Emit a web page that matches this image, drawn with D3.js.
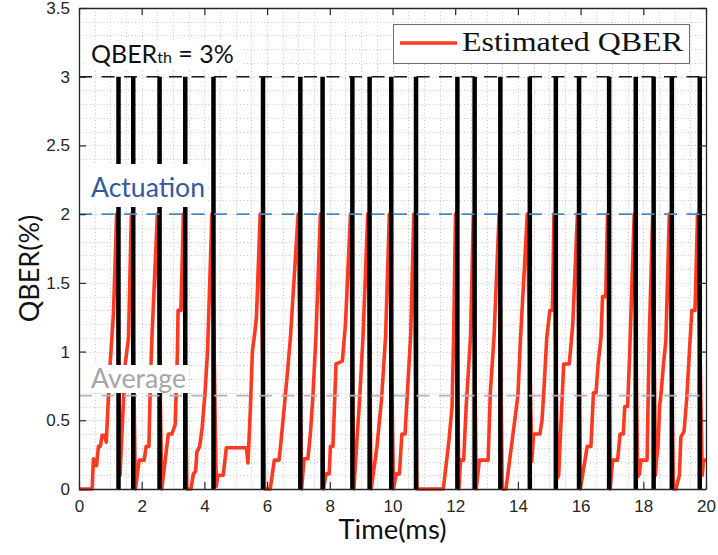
<!DOCTYPE html>
<html>
<head>
<meta charset="utf-8">
<script src="https://cdnjs.cloudflare.com/ajax/libs/d3/7.8.5/d3.min.js"></script>
<style>
	body { margin: 0; background: #fff; }
	svg { display: block; }
</style>
</head>
<body>
<svg id="chart" width="718" height="555"></svg>
<script>
// tick labels
var xTicks = [0, 2, 4, 6, 8, 10, 12, 14, 16, 18, 20];
var yTicks = [0, 0.5, 1, 1.5, 2, 2.5, 3, 3.5];

// reference levels (QBER %)
var thresholdLevel = 3;
var actuationLevel = 2;
var averageLevel = 0.68;

// times (ms) of the actuation bars
var actuationTimes = [1.26, 1.73, 2.57, 3.39, 4.29, 5.87, 7.06, 7.77, 8.72, 9.27, 9.96, 10.75,
	12.07, 12.62, 13.44, 14.38, 15.21, 15.95, 16.91, 17.76, 18.33, 18.91, 19.8];

// estimated QBER, [time ms, QBER %]
var qberTime = [
	0, 0.42, 0.46, 0.52, 0.56, 0.62, 0.68, 0.74, 0.82, 0.87, 0.94, 0.99, 1.1, 1.2,
	1.31, 1.47, 1.58, 1.67,
	1.8, 1.92, 2.08, 2.14, 2.23, 2.28, 2.33, 2.5,
	2.64, 2.75, 2.85, 2.96, 3.07, 3.14, 3.16, 3.25, 3.33,
	3.44, 3.57, 3.65, 3.72, 3.76, 3.85, 3.93, 4.02, 4.1, 4.24,
	4.38, 4.43, 4.6, 4.7, 5.34, 5.39, 5.47, 5.53, 5.6, 5.66, 5.78,
	5.92, 6.1, 6.23, 6.38, 6.45, 6.55, 6.65, 6.75, 6.99,
	7.1, 7.18, 7.3, 7.38, 7.46, 7.56, 7.7,
	7.8, 7.88, 7.98, 8.02, 8.1, 8.2, 8.4, 8.5, 8.66,
	8.77, 8.85, 8.95, 9.06, 9.21,
	9.32, 9.5, 9.65, 9.78, 9.9,
	10.03, 10.12, 10.22, 10.3, 10.4, 10.5, 10.58, 10.68,
	10.78, 11.62, 11.8, 11.9, 11.95, 12.01,
	12.12, 12.17, 12.27, 12.35, 12.49, 12.58,
	12.67, 12.77, 13.05, 13.12, 13.24, 13.4,
	13.5, 13.62, 14.0, 14.08, 14.3,
	14.44, 14.5, 14.7, 14.77, 14.83, 14.92, 15.02, 15.1, 15.15,
	15.26, 15.3, 15.46, 15.64, 15.75, 15.9,
	15.99, 16.07, 16.21, 16.33, 16.41, 16.49, 16.56, 16.65, 16.7, 16.8, 16.86,
	16.94, 17.02, 17.18, 17.26, 17.36, 17.41, 17.5, 17.56, 17.71,
	17.82, 17.88, 17.92, 18.12, 18.19, 18.3,
	18.39, 18.42, 18.47, 18.52, 18.57, 18.64, 18.72, 18.83,
	18.96, 19.04, 19.15, 19.2, 19.3, 19.39, 19.47, 19.55, 19.65, 19.73,
	19.88, 19.92, 20.0
];
var qberValue = [
	0, 0, 0.22, 0.2, 0.17, 0.31, 0.31, 0.39, 0.39, 0.34, 0.68, 0.9, 1.28, 2.0,
	0.1, 0.9, 1.1, 2.0,
	0, 0.21, 0.21, 0.31, 0.31, 0.8, 1.12, 2.0,
	0, 0.21, 0.4, 0.4, 0.47, 1.0, 1.3, 1.3, 2.0,
	0, 0, 0.11, 0.13, 0.27, 0.31, 0.45, 0.7, 1.0, 2.0,
	0.02, 0.1, 0.1, 0.3, 0.3, 0.19, 0.6, 1.0, 1.12, 1.25, 2.0,
	0, 0, 0.21, 0.21, 0.36, 0.6, 0.85, 1.12, 2.0,
	0, 0.22, 0.22, 0.4, 0.67, 1.12, 2.0,
	0, 0.11, 0.11, 0.31, 0.31, 0.91, 0.93, 1.2, 2.0,
	0, 0.3, 0.65, 1.11, 2.0,
	0, 0.3, 0.65, 1.11, 2.0,
	0, 0.11, 0.11, 0.4, 0.4, 0.8, 1.12, 2.0,
	0, 0, 0.35, 0.6, 1.11, 2.0,
	0, 0.21, 0.21, 0.6, 1.11, 2.0,
	0, 0.21, 0.21, 0.7, 1.11, 2.0,
	0, 0, 0.68, 1.08, 2.0,
	0.2, 0.4, 0.4, 0.5, 0.72, 1.1, 1.3, 1.3, 2.0,
	0.08, 0.1, 0.91, 0.91, 1.2, 2.0,
	0, 0.11, 0.31, 0.31, 0.7, 0.7, 0.91, 1.1, 1.4, 1.4, 2.0,
	0, 0.21, 0.21, 0.4, 0.4, 0.6, 0.6, 0.95, 2.0,
	0.09, 0.11, 0.21, 0.21, 1.1, 2.0,
	0.1, 0.21, 0.31, 0.6, 0.7, 0.9, 1.08, 2.0,
	0, 0, 0.1, 0.38, 0.42, 0.67, 1.0, 1.3, 1.3, 2.0,
	0.1, 0.21, 0.21
];

var sansFont = 'Lato, "Liberation Sans", sans-serif';
var tickFont = '"Liberation Sans", Arial, sans-serif';

var svg = d3.select('#chart');
var plotLeft = 79, plotRight = 706, plotTop = 8, plotBottom = 489;

var x = d3.scaleLinear().domain([0, 20]).range([plotLeft, plotRight]);
var y = d3.scaleLinear().domain([0, 3.5]).range([plotBottom, plotTop]);

//Minor dotted grid
var grid = svg.append('g').attr('stroke', '#c4c4c4').attr('stroke-width', 1).attr('stroke-dasharray', '1,2.5');
grid.selectAll('line.gx')
	.data(d3.range(1, 40))
	.enter().append('line')
	.attr('x1', function(d){ return Math.round(x(d * 0.5)) + 0.5; })
	.attr('x2', function(d){ return Math.round(x(d * 0.5)) + 0.5; })
	.attr('y1', plotTop)
	.attr('y2', plotBottom);
grid.selectAll('line.gy')
	.data(d3.range(1, 35))
	.enter().append('line')
	.attr('y1', function(d){ return Math.round(y(d * 0.1)) + 0.5; })
	.attr('y2', function(d){ return Math.round(y(d * 0.1)) + 0.5; })
	.attr('x1', plotLeft)
	.attr('x2', plotRight);

//Estimated QBER line
var qberData = qberTime.map(function(t, i){ return [t, qberValue[i]]; });
var line = d3.line()
	.x(function(d){ return x(d[0]); })
	.y(function(d){ return y(d[1]); });
svg.append('path')
	.datum(qberData)
	.attr('d', line)
	.attr('fill', 'none')
	.attr('stroke', '#fc3a22')
	.attr('stroke-width', 3.6)
	.attr('stroke-linejoin', 'round');

//Actuation bars
svg.selectAll('line.bar')
	.data(actuationTimes)
	.enter().append('line')
	.attr('x1', function(d){ return x(d); })
	.attr('x2', function(d){ return x(d); })
	.attr('y1', y(0))
	.attr('y2', y(thresholdLevel))
	.attr('stroke', '#000')
	.attr('stroke-width', 4.5);

//Reference dashed lines
var levels = [
	{v: thresholdLevel, c: '#1a1a1a', w: 1.4},
	{v: actuationLevel, c: '#4a88bd', w: 1.6},
	{v: averageLevel, c: '#b5adb9', w: 1.8}
];
svg.selectAll('line.level')
	.data(levels)
	.enter().append('line')
	.attr('x1', plotLeft)
	.attr('x2', plotRight)
	.attr('y1', function(d){ return y(d.v); })
	.attr('y2', function(d){ return y(d.v); })
	.attr('stroke', function(d){ return d.c; })
	.attr('stroke-width', function(d){ return d.w; })
	.attr('stroke-dasharray', '13,9.5');

//Text annotations with white boxes
var thLabel = svg.append('g');
thLabel.append('rect').attr('x', 86).attr('y', 40).attr('width', 156).attr('height', 30).attr('fill', '#fff');
var thText = thLabel.append('text')
	.attr('x', 91).attr('y', 63)
	.attr('font-family', sansFont).attr('font-size', 25).attr('fill', '#111');
thText.append('tspan').text('QBER');
thText.append('tspan').attr('font-size', 16).text('th');
thText.append('tspan').text(' = 3%');

svg.append('rect').attr('x', 81).attr('y', 164).attr('width', 127).attr('height', 43).attr('fill', '#fff');
svg.append('text')
	.attr('x', 91).attr('y', 197)
	.attr('font-family', sansFont).attr('font-size', 26).attr('fill', '#34599c')
	.attr('textLength', 114).attr('lengthAdjust', 'spacingAndGlyphs')
	.text('Actuation');

svg.append('rect').attr('x', 81).attr('y', 365).attr('width', 107).attr('height', 28).attr('fill', '#fff');
svg.append('text')
	.attr('x', 91).attr('y', 388)
	.attr('font-family', sansFont).attr('font-size', 26).attr('fill', '#a6a6a6')
	.attr('textLength', 95).attr('lengthAdjust', 'spacingAndGlyphs')
	.text('Average');

//Legend
var legend = svg.append('g');
legend.append('rect')
	.attr('x', 393.5).attr('y', 24.5).attr('width', 296).attr('height', 39)
	.attr('fill', '#fff').attr('stroke', '#6e6e6e').attr('stroke-width', 1);
legend.append('line')
	.attr('x1', 400).attr('x2', 457).attr('y1', 43).attr('y2', 43)
	.attr('stroke', '#fc3a22').attr('stroke-width', 3.6);
legend.append('text')
	.attr('x', 462).attr('y', 51)
	.attr('font-family', '"Liberation Serif", "DejaVu Serif", serif')
	.attr('font-size', 27).attr('fill', '#111')
	.attr('textLength', 221).attr('lengthAdjust', 'spacingAndGlyphs')
	.text('Estimated QBER');

//Axes with inward ticks
var fmt = function(d){ return String(d); };
var xAxis = svg.append('g')
	.attr('transform', 'translate(0,' + plotBottom + ')')
	.call(d3.axisBottom(x).tickValues(xTicks).tickFormat(fmt).tickSizeInner(-7).tickSizeOuter(0).tickPadding(11));
var yAxis = svg.append('g')
	.attr('transform', 'translate(' + plotLeft + ',0)')
	.call(d3.axisLeft(y).tickValues(yTicks).tickFormat(fmt).tickSizeInner(-7).tickSizeOuter(0).tickPadding(9));
var xTop = svg.append('g')
	.attr('transform', 'translate(0,' + plotTop + ')')
	.call(d3.axisTop(x).tickValues(xTicks).tickFormat('').tickSizeInner(-7).tickSizeOuter(0));
var yRight = svg.append('g')
	.attr('transform', 'translate(' + plotRight + ',0)')
	.call(d3.axisRight(y).tickValues(yTicks).tickFormat('').tickSizeInner(-7).tickSizeOuter(0));

[xAxis, yAxis, xTop, yRight].forEach(function(a){
	a.selectAll('path.domain').attr('stroke', '#262626').attr('stroke-width', 1.3);
	a.selectAll('.tick line').attr('stroke', '#262626').attr('stroke-width', 1.2);
	a.selectAll('.tick text')
		.attr('font-family', tickFont)
		.attr('font-size', 17)
		.attr('fill', '#262626');
});

//Axis titles
svg.append('text')
	.attr('x', (plotLeft + plotRight) / 2).attr('y', 539)
	.attr('text-anchor', 'middle')
	.attr('font-family', sansFont).attr('font-size', 26).attr('fill', '#111')
	.attr('textLength', 108).attr('lengthAdjust', 'spacingAndGlyphs')
	.text('Time(ms)');
svg.append('text')
	.attr('transform', 'translate(39,' + ((plotTop + plotBottom) / 2 + 20) + ') rotate(-90)')
	.attr('text-anchor', 'middle')
	.attr('font-family', sansFont).attr('font-size', 27).attr('fill', '#111')
	.text('QBER(%)');
</script>
</body>
</html>
